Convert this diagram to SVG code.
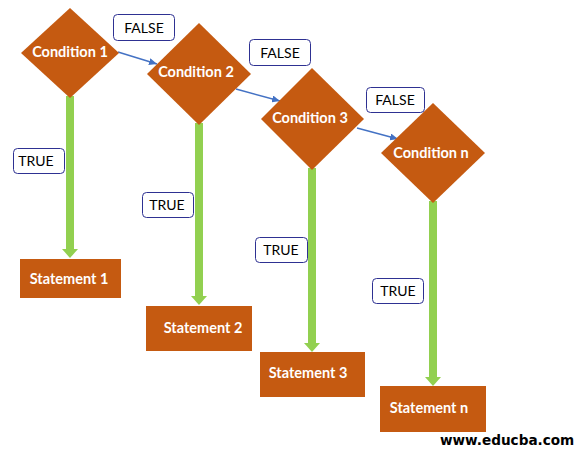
<svg xmlns="http://www.w3.org/2000/svg" width="579" height="453" viewBox="0 0 579 453">
<style>
.d{fill:#c55a11}
.s{fill:#c55a11}
.t{font-family:Lato,"Open Sans",sans-serif;font-weight:bold;font-size:14.5px;fill:#ffffff;text-anchor:middle}
.lb{fill:#ffffff;stroke:#2e3192;stroke-width:1}
.lt{font-family:Lato,"Open Sans",sans-serif;font-size:14px;fill:#000000;text-anchor:middle}
.g{stroke:#92d050;stroke-width:8;fill:none}
.b{stroke:#4472c4;stroke-width:1.5;fill:none}
.w{font-family:"DejaVu Sans",sans-serif;font-weight:bold;font-size:13.6px;fill:#000000}
</style>
<defs>
<marker id="ga" markerUnits="userSpaceOnUse" markerWidth="10" markerHeight="16" refX="0" refY="8" orient="auto" viewBox="0 0 10 16">
<path d="M0,0 L9,8 L0,16 z" fill="#92d050"/>
</marker>
<marker id="ba" markerUnits="userSpaceOnUse" markerWidth="8" markerHeight="7" refX="8" refY="3.5" orient="auto" viewBox="0 0 8 7">
<path d="M0,0 L8,3.5 L0,7 z" fill="#4472c4"/>
</marker>
</defs>
<rect width="579" height="453" fill="#ffffff"/>
<g id="connectors">
<line class="g" x1="70" y1="96" x2="70" y2="249" marker-end="url(#ga)"/>
<line class="g" x1="199" y1="123" x2="199" y2="296" marker-end="url(#ga)"/>
<line class="g" x1="312" y1="168" x2="312" y2="343" marker-end="url(#ga)"/>
<line class="g" x1="433" y1="201" x2="433" y2="377" marker-end="url(#ga)"/>
<line class="b" x1="118" y1="52" x2="157" y2="64" marker-end="url(#ba)"/>
<line class="b" x1="236" y1="89" x2="280" y2="101" marker-end="url(#ba)"/>
<line class="b" x1="357" y1="128" x2="398" y2="139" marker-end="url(#ba)"/>
</g>
<g id="cond1"><polygon class="d" points="70,8 119,53 70,98 21,53"/><text class="t" x="70" y="57">Condition 1</text></g>
<g id="cond2"><polygon class="d" points="199,23 251,74 199,125 147,74"/><text class="t" x="196" y="77">Condition 2</text></g>
<g id="cond3"><polygon class="d" points="312,68 364,119 312,170 261,119"/><text class="t" x="310" y="123">Condition 3</text></g>
<g id="condn"><polygon class="d" points="433,103 485,153 433,203 381,153"/><text class="t" x="431" y="158">Condition n</text></g>
<g id="stmt1"><rect class="s" x="20" y="259" width="101" height="39"/><text class="t" x="69" y="284">Statement 1</text></g>
<g id="stmt2"><rect class="s" x="146" y="306" width="106" height="45"/><text class="t" x="203" y="333">Statement 2</text></g>
<g id="stmt3"><rect class="s" x="260" y="352" width="105" height="45"/><text class="t" x="308" y="378">Statement 3</text></g>
<g id="stmtn"><rect class="s" x="380" y="386" width="106" height="46"/><text class="t" x="429" y="413">Statement n</text></g>
<g id="false1"><rect class="lb" x="113.5" y="14.5" width="61" height="26" rx="4"/><text class="lt" x="144" y="33">FALSE</text></g>
<g id="false2"><rect class="lb" x="249.5" y="39.5" width="61" height="26" rx="4"/><text class="lt" x="280" y="58">FALSE</text></g>
<g id="false3"><rect class="lb" x="366.5" y="87.5" width="58" height="25" rx="4"/><text class="lt" x="395" y="105">FALSE</text></g>
<g id="true1"><rect class="lb" x="13.5" y="148.5" width="51" height="25" rx="4"/><text class="lt" x="36" y="166">TRUE</text></g>
<g id="true2"><rect class="lb" x="142.5" y="192.5" width="51" height="25" rx="4"/><text class="lt" x="167" y="210">TRUE</text></g>
<g id="true3"><rect class="lb" x="255.5" y="237.5" width="52" height="25" rx="4"/><text class="lt" x="281" y="255">TRUE</text></g>
<g id="truen"><rect class="lb" x="372.5" y="278.5" width="51" height="25" rx="4"/><text class="lt" x="398" y="296">TRUE</text></g>
<text class="w" x="440" y="445">www.educba.com</text>
</svg>
